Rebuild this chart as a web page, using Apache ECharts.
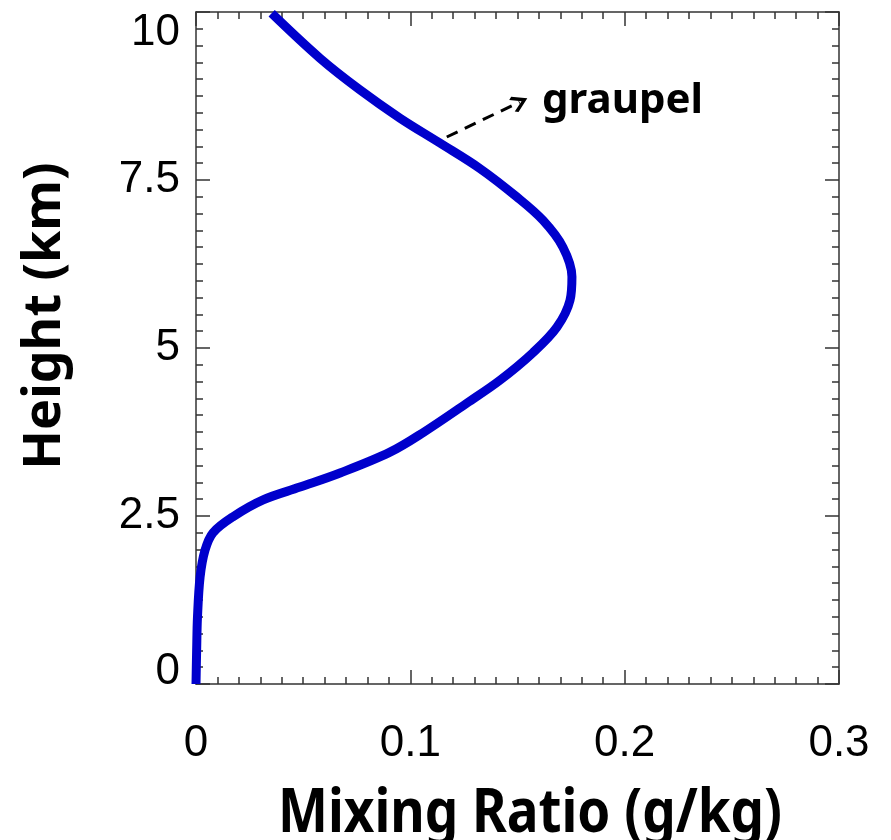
<!DOCTYPE html>
<html>
<head>
<meta charset="utf-8">
<script src="https://cdn.jsdelivr.net/npm/echarts@6/dist/echarts.min.js"></script>
<style>
  html, body { margin: 0; padding: 0; background: #fff; }
  #chart { width: 891px; height: 840px; }
</style>
</head>
<body>
<div id="chart"></div>
<script>
// graupel mixing ratio profile (g/kg) against height (km)
const heights = [0.0, 0.5, 1.0, 1.59, 1.99, 2.25, 2.49, 2.74, 2.93, 3.14, 3.45, 3.74, 4.18, 4.52, 4.93, 5.31, 5.71, 6.06, 6.50, 6.90, 7.25, 7.67, 8.05, 8.42, 8.84, 9.31, 9.98];
const mixing = [0.0, 0.0003, 0.0007, 0.0019, 0.0042, 0.0079, 0.0173, 0.0313, 0.0485, 0.0672, 0.0905, 0.1059, 0.1264, 0.1418, 0.1572, 0.1684, 0.1745, 0.1754, 0.1712, 0.1619, 0.1496, 0.1325, 0.1138, 0.0952, 0.0765, 0.0579, 0.0353];

const xTicks = [0, 0.1, 0.2, 0.3];
const yTicks = [0, 2.5, 5, 7.5, 10];

// dashed pointer from the curve to the label
const arrowFrom = [0.117, 8.14];
const arrowTo = [0.151, 8.66];

const axisLineStyle = { color: '#333', width: 1.5 };
const tickFont = { fontFamily: 'Liberation Sans, Arial, sans-serif', fontSize: 44, color: '#000' };
const titleFont = 'Noto Sans, Open Sans, sans-serif';

// open chevron head for the pointer
const chevron = 'path://M0,0 L12,13 L9,16 L0,6 L-9,16 L-12,13 Z';

function boxAxis(extra) {
  return {
    type: 'value',
    axisLine: { show: true, onZero: false, lineStyle: axisLineStyle },
    axisTick: { show: true, inside: true, length: 14, lineStyle: axisLineStyle },
    minorTick: { show: true, splitNumber: 10, length: 7, lineStyle: axisLineStyle },
    splitLine: { show: false },
    minorSplitLine: { show: false },
    ...extra,
  };
}

const chart = echarts.init(document.getElementById('chart'));

chart.setOption({
  backgroundColor: '#fff',
  animation: false,
  grid: { left: 196, right: 52, top: 12, bottom: 156 },
  xAxis: [
    boxAxis({
      min: xTicks[0],
      max: xTicks[xTicks.length - 1],
      interval: 0.1,
      axisLabel: { ...tickFont, margin: 38, showMinLabel: true, showMaxLabel: true },
    }),
    boxAxis({
      position: 'top',
      min: xTicks[0],
      max: xTicks[xTicks.length - 1],
      interval: 0.1,
      axisLabel: { show: false },
    }),
  ],
  yAxis: [
    boxAxis({
      min: yTicks[0],
      max: yTicks[yTicks.length - 1],
      interval: 2.5,
      axisLabel: {
        ...tickFont,
        margin: 16,
        formatter: function (v) {
          if (v === 0) return '{lo|0}';
          if (v === 10) return '{hi|10}';
          return String(v);
        },
        rich: {
          lo: { ...tickFont, padding: [0, 0, 24, 0] },
          hi: { ...tickFont, padding: [42, 0, 0, 0] },
        },
      },
    }),
    boxAxis({
      position: 'right',
      min: yTicks[0],
      max: yTicks[yTicks.length - 1],
      interval: 2.5,
      axisLabel: { show: false },
    }),
  ],
  series: [
    {
      name: 'graupel',
      type: 'line',
      data: heights.map((h, i) => [mixing[i], h]),
      smooth: 0.35,
      showSymbol: false,
      clip: false,
      lineStyle: { color: '#0000cc', width: 9 },
      markLine: {
        silent: true,
        symbol: ['none', chevron],
        symbolSize: [17, 17],
        label: { show: false },
        lineStyle: { color: '#000', width: 3, type: [12, 8] },
        data: [[{ coord: arrowFrom }, { coord: arrowTo }]],
      },
    },
  ],
  graphic: [
    {
      type: 'text',
      left: 542,
      top: 80,
      style: {
        text: 'graupel',
        fontFamily: titleFont,
        fontWeight: 'bold',
        fontSize: 42,
        fill: '#000',
      },
    },
    {
      type: 'text',
      x: 530,
      y: 815,
      scaleY: 1.15,
      style: {
        text: 'Mixing Ratio (g/kg)',
        fontFamily: titleFont,
        fontWeight: 'bold',
        fontSize: 53,
        fill: '#000',
        align: 'center',
        verticalAlign: 'middle',
      },
    },
    {
      type: 'text',
      x: 45,
      y: 316,
      rotation: Math.PI / 2,
      style: {
        text: 'Height (km)',
        fontFamily: titleFont,
        fontWeight: 'bold',
        fontSize: 52,
        fill: '#000',
        align: 'center',
        verticalAlign: 'middle',
      },
    },
  ],
});
</script>
</body>
</html>
